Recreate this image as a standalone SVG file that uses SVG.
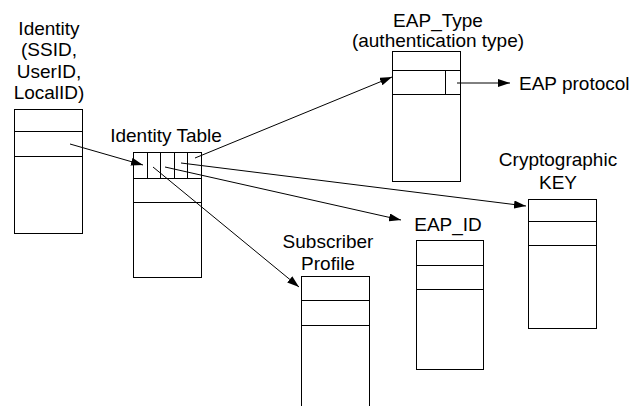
<svg xmlns="http://www.w3.org/2000/svg" width="630" height="406" viewBox="0 0 630 406">
<style>
.box{fill:#fff;stroke:#000;stroke-width:1}
.ln{fill:none;stroke:#000;stroke-width:1}
.t{font-family:"Liberation Sans",Arial,sans-serif;font-size:19px;fill:#000;text-anchor:middle}
.tl{font-family:"Liberation Sans",Arial,sans-serif;font-size:19px;fill:#000}
</style>
<defs>
<marker id="ah" viewBox="0 0 12 8" refX="12" refY="4" markerWidth="12" markerHeight="8" markerUnits="userSpaceOnUse" orient="auto">
<path d="M0,0 L12,4 L0,8 Z" fill="#000"/>
</marker>
</defs>
<rect width="630" height="406" fill="#fff"/>
<g id="identity">
<text class="t" x="49" y="35">Identity</text>
<text class="t" x="49" y="56">(SSID,</text>
<text class="t" x="49" y="78">UserID,</text>
<text class="t" x="49" y="99">LocalID)</text>
<rect class="box" x="14.5" y="109.5" width="68" height="124"/>
<path class="ln" d="M14.5,131.5H82.5M14.5,156.5H82.5"/>
</g>
<g id="identity-table">
<text class="t" x="166" y="142">Identity Table</text>
<rect class="box" x="133.5" y="152.5" width="68" height="125"/>
<path class="ln" d="M133.5,178.5H201.5M133.5,202.5H201.5M147.5,152.5V178.5M160.5,152.5V178.5M174.5,152.5V178.5M187.5,152.5V178.5"/>
</g>
<g id="eap-type">
<text class="t" x="438" y="27">EAP_Type</text>
<text class="t" x="438" y="47">(authentication type)</text>
<rect class="box" x="392.5" y="51.5" width="68" height="130"/>
<path class="ln" d="M392.5,70.5H460.5M392.5,94.5H460.5M445.5,70.5V94.5"/>
</g>
<g id="eap-protocol">
<text class="tl" x="519" y="90">EAP protocol</text>
</g>
<g id="crypto-key">
<text class="t" x="558" y="166">Cryptographic</text>
<text class="t" x="558" y="189">KEY</text>
<rect class="box" x="528.5" y="199.5" width="68" height="129"/>
<path class="ln" d="M528.5,221.5H596.5M528.5,245.5H596.5"/>
</g>
<g id="eap-id">
<text class="t" x="448" y="231">EAP_ID</text>
<rect class="box" x="416.5" y="240.5" width="67" height="129"/>
<path class="ln" d="M416.5,265.5H483.5M416.5,289.5H483.5"/>
</g>
<g id="subscriber-profile">
<text class="t" x="328" y="248">Subscriber</text>
<text class="t" x="328" y="270">Profile</text>
<rect class="box" x="301.5" y="276.5" width="68" height="130"/>
<path class="ln" d="M301.5,300.5H369.5M301.5,325.5H369.5"/>
</g>
<g id="connectors">
<line class="ln" x1="70" y1="144" x2="143" y2="165" marker-end="url(#ah)"/>
<line class="ln" x1="195" y1="158" x2="392" y2="77" marker-end="url(#ah)"/>
<line class="ln" x1="457" y1="83" x2="510" y2="83" marker-end="url(#ah)"/>
<line class="ln" x1="181" y1="163" x2="526" y2="206" marker-end="url(#ah)"/>
<line class="ln" x1="165" y1="167" x2="401" y2="220" marker-end="url(#ah)"/>
<line class="ln" x1="153" y1="167" x2="299" y2="287" marker-end="url(#ah)"/>
</g>
</svg>
